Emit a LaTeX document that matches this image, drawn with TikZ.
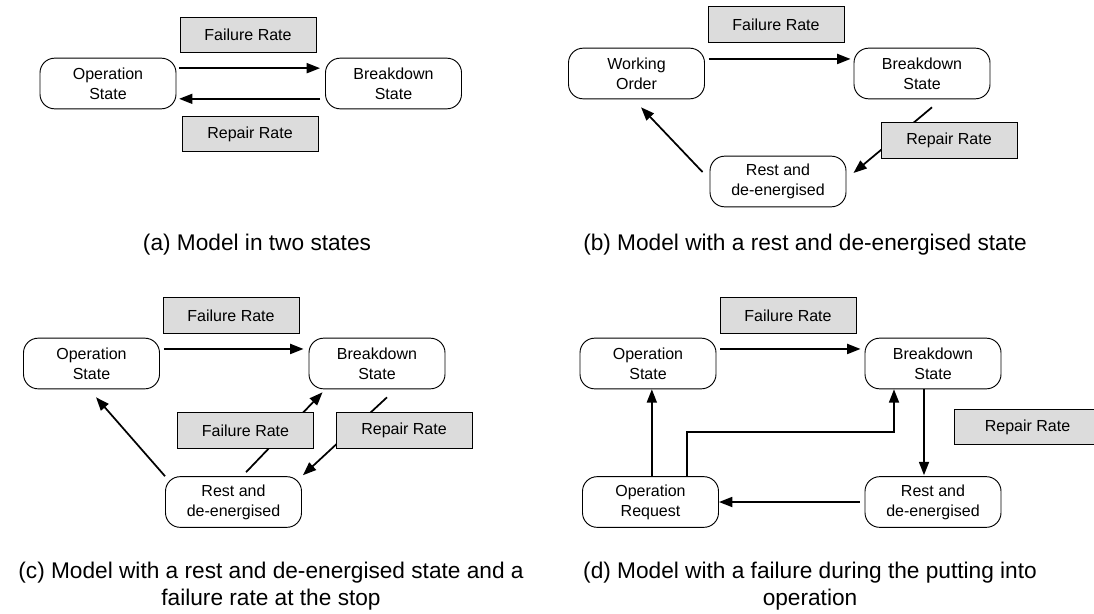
\documentclass[tikz,border=0pt]{standalone}
\usepackage{fontspec}
\setmainfont{Liberation Sans}
\usepackage{tikz}
\usetikzlibrary{arrows.meta}
\usepackage{xcolor}
\definecolor{rategray}{HTML}{DCDCDC}

\begin{document}
\begin{tikzpicture}[
  x=0.75pt, y=-0.75pt,
  >={Triangle[length=10pt,width=7.5pt]},
  state/.style={
    draw=black,
    fill=white,
    rounded corners=11pt,
    line width=0.7pt,
    minimum width=102pt,
    minimum height=38pt,
    inner sep=0pt,
    align=center,
    font=\fontsize{12}{15}\selectfont
  },
  rate/.style={
    draw=black,
    fill=rategray,
    line width=0.7pt,
    minimum width=102pt,
    minimum height=26.5pt,
    inner sep=0pt,
    font=\fontsize{12}{15}\selectfont
  },
  flow/.style={->, line width=1.3pt},
  caption/.style={align=center, font=\fontsize{17}{20}\selectfont}
]
  \useasboundingbox (0,0) rectangle (1094,613);

  % --- (a) Two states ---
  \node[state] (opA) at (108,83.5) {Operation\\State};
  \node[state] (bdA) at (393.5,83.5) {Breakdown\\State};
  \node[rate] (frA) at (248,35) {Failure Rate};
  \node[rate] (rrA) at (250,134) {Repair Rate};
  \draw[flow] ([xshift=2pt,yshift=11.5pt]opA.east) -- ([xshift=-3.75pt,yshift=11.5pt]bdA.west);
  \draw[flow] ([xshift=-3.75pt,yshift=-11.5pt]bdA.west) -- ([xshift=2pt,yshift=-11.5pt]opA.east);
  \node[caption] (capA) at (257,245) {(a) Model in two states};

  % --- (b) Rest and de-energised state ---
  \node[state] (woB) at (636.5,73.5) {Working\\Order};
  \node[state] (bdB) at (922,73.5) {Breakdown\\State};
  \node[state] (reB) at (778,181.5) {Rest and\\de-energised};
  \node[rate] (frB) at (776,24.5) {Failure Rate};
  \draw[flow] ([xshift=3pt,yshift=10.9pt]woB.east) -- ([xshift=-2.25pt,yshift=10.9pt]bdB.west);
  \draw[flow] ([xshift=7.5pt,yshift=-6pt]bdB.south) -- ([xshift=5.25pt,yshift=6.4pt]reB.east);
  \draw[flow] ([xshift=-5.25pt,yshift=7.1pt]reB.west) -- ([xshift=3.4pt,yshift=-6pt]woB.south);
  \node[rate] (rrB) at (949,140.5) {Repair Rate};
  \node[caption] (capB) at (805,245) {(b) Model with a rest and de-energised state};

  % --- (c) Failure rate at the stop ---
  \node[state] (opC) at (91.5,363.5) {Operation\\State};
  \node[state] (bdC) at (377,363.5) {Breakdown\\State};
  \node[state] (reC) at (233.5,502) {Rest and\\de-energised};
  \node[rate] (frC) at (231,315.5) {Failure Rate};
  \draw[flow] ([xshift=3pt,yshift=10.9pt]opC.east) -- ([xshift=-3.75pt,yshift=10.9pt]bdC.west);
  \draw[flow] (reC.north west) -- ([xshift=3.4pt,yshift=-6pt]opC.south);
  \draw[flow] ([xshift=9.4pt,yshift=3pt]reC.north) -- ([xshift=10.5pt,yshift=-2.25pt]bdC.south west);
  \draw[flow] ([xshift=7.5pt,yshift=-6pt]bdC.south) -- ([xshift=0.75pt,yshift=0.75pt]reC.north east);
  \node[rate] (fsC) at (245.5,430.5) {Failure Rate};
  \node[rate] (rrC) at (404,430.5) {Repair Rate};
  \node[caption] (capC) at (271,586) {(c) Model with a rest and de-energised state and a\\failure rate at the stop};

  % --- (d) Failure during the putting into operation ---
  \node[state] (opD) at (648,363.5) {Operation\\State};
  \node[state] (bdD) at (933,363.5) {Breakdown\\State};
  \node[state] (orD) at (650.5,502) {Operation\\Request};
  \node[state] (reD) at (933,502) {Rest and\\de-energised};
  \node[rate] (frD) at (788,315.5) {Failure Rate};
  \node[rate, minimum width=109pt] (rrD) at (1027.5,427) {Repair Rate};
  \draw[flow] ([xshift=3pt,yshift=10.9pt]opD.east) -- ([xshift=-3pt,yshift=10.9pt]bdD.west);
  \draw[flow] ([xshift=-6.75pt]bdD.south) -- ([xshift=-6.75pt,yshift=0.75pt]reD.north);
  \draw[flow] ([xshift=-3.75pt]reD.west) -- (orD.east);
  \draw[flow] ([xshift=1pt]orD.north) -- ([xshift=1pt]orD.north |- opD.south);
  \draw[flow] ([xshift=27.4pt]orD.north) -- ++(0,-44) -| ([xshift=-29.25pt]bdD.south);
  \node[caption] (capD) at (810,586) {(d) Model with a failure during the putting into\\operation};

\end{tikzpicture}
\end{document}
